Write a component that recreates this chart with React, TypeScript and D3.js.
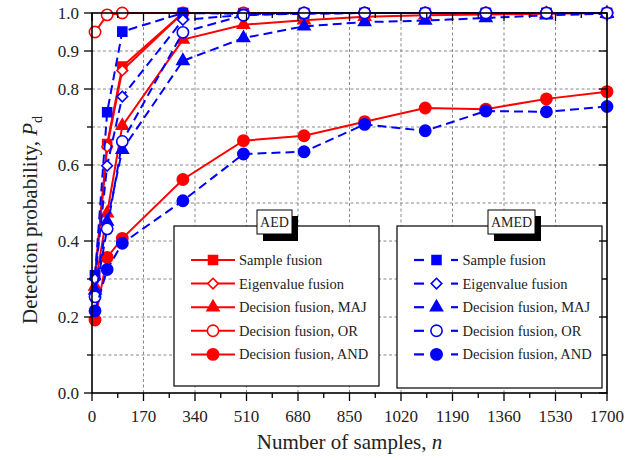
import * as d3 from 'd3';
import React from 'react';

// sample counts on the x axis
const samples = [10, 50, 100, 300, 500, 700, 900, 1100, 1300, 1500, 1700];

// AED (red, solid)
const aedSample = [0.31, 0.655, 0.859, 1.0, 1.0, 1.0, 1.0, 1.0, 1.0, 1.0, 1.0];
const aedEigen = [0.30, 0.648, 0.849, 1.0, 1.0, 1.0, 1.0, 1.0, 1.0, 1.0, 1.0];
const aedMaj = [0.28, 0.473, 0.703, 0.930, 0.969, 0.981, 0.99, 0.994, 0.996, 0.998, 1.0];
const aedOr = [0.95, 0.995, 1.0, 1.0, 1.0, 1.0, 1.0, 1.0, 1.0, 1.0, 1.0];
const aedAnd = [0.192, 0.357, 0.407, 0.562, 0.664, 0.677, 0.714, 0.750, 0.747, 0.774, 0.793];

// AMED (blue, dashed)
const amedSample = [0.31, 0.739, 0.951, 1.0, 0.998, 0.999, 1.0, 1.0, 1.0, 1.0, 1.0];
const amedEigen = [0.30, 0.598, 0.780, 0.982, 0.995, 0.998, 1.0, 1.0, 1.0, 1.0, 1.0];
const amedMaj = [0.27, 0.451, 0.640, 0.874, 0.934, 0.965, 0.976, 0.980, 0.987, 0.994, 0.998];
const amedOr = [0.253, 0.432, 0.662, 0.949, 0.994, 1.0, 1.0, 1.0, 1.0, 1.0, 1.0];
const amedAnd = [0.216, 0.325, 0.394, 0.506, 0.629, 0.635, 0.707, 0.690, 0.742, 0.740, 0.754];

const legendNames = ['Sample fusion', 'Eigenvalue fusion', 'Decision fusion, MAJ', 'Decision fusion, OR', 'Decision fusion, AND'];
const markerKinds = ['square', 'diamond', 'triangle', 'circle', 'circle'];
const markerFilled = [true, false, true, false, true];

const xTicks = d3.range(0, 1701, 170);
const xMinor = d3.range(85, 1700, 170);
const yMajor = [0, 0.2, 0.4, 0.6, 0.8, 0.9, 1.0];
const yMinor = [0.1, 0.3, 0.5, 0.7];
const yGrid = d3.range(1, 10).map(i => i / 10);

const RED = '#ff0000';
const BLUE = '#0000ff';
const FONT = '"Liberation Serif", "DejaVu Serif", serif';

const margin = { left: 92, right: 31, top: 13, bottom: 67 };
const W = 638, H = 460;

function symbolPath(kind: string) {
    const type = kind === 'square' ? d3.symbolSquare
        : kind === 'diamond' ? d3.symbolDiamond2
        : kind === 'triangle' ? d3.symbolTriangle
        : d3.symbolCircle;
    const size = kind === 'square' ? 80 : kind === 'diamond' ? 72 : kind === 'triangle' ? 62 : 100;
    return d3.symbol().type(type).size(size)() as string;
}

function Marker({ x, y, kind, filled, color }: any) {
    return (
        <path
            d={symbolPath(kind)}
            transform={`translate(${x},${y})`}
            fill={filled ? color : '#fff'}
            stroke={color}
            strokeWidth={1.6}
        />
    );
}

export default function App() {
    const x = d3.scaleLinear().domain([0, 1700]).range([margin.left, W - margin.right]);
    const y = d3.scaleLinear().domain([0, 1]).range([H - margin.bottom, margin.top]);

    const line = d3.line<number>()
        .x((d, i) => x(samples[i]))
        .y(d => y(d));

    const red = [aedSample, aedEigen, aedMaj, aedOr, aedAnd];
    const blue = [amedSample, amedEigen, amedMaj, amedOr, amedAnd];

    const x0 = x(0), x1 = x(1700), y0 = y(0), y1 = y(1);

    const renderSeries = (vals: number[], i: number, color: string, dashed: boolean) => (
        <g key={color + i}>
            <path d={line(vals) as string} fill="none" stroke={color} strokeWidth={2}
                strokeDasharray={dashed ? '9,5' : undefined} />
            {vals.map((v, j) => (
                <Marker key={j} x={x(samples[j])} y={y(v)} kind={markerKinds[i]} filled={markerFilled[i]} color={color} />
            ))}
        </g>
    );

    const legend = (left: number, right: number, top: number, bottom: number, title: string, titleX: number, titleW: number, color: string, dashed: boolean) => (
        <g>
            <rect x={left} y={top} width={right - left} height={bottom - top} fill="#fff" stroke="#000" strokeWidth={1.2} />
            <rect x={titleX + 6} y={216} width={titleW} height={25} fill="#000" />
            <rect x={titleX} y={210} width={titleW} height={24} fill="#fff" stroke="#000" strokeWidth={1} />
            <text x={titleX + titleW / 2} y={227} textAnchor="middle" fontSize={14} fontFamily={FONT} fill="#222">{title}</text>
            {legendNames.map((name, i) => {
                const ry = top + 34 + i * 23.6;
                const mx = left + (dashed ? 39.5 : 39);
                return (
                    <g key={name}>
                        {dashed ? (
                            <g stroke={color} strokeWidth={2.2}>
                                <line x1={left + 17} x2={left + 27} y1={ry} y2={ry} />
                                <line x1={left + 54} x2={left + 61} y1={ry} y2={ry} />
                            </g>
                        ) : (
                            <line x1={left + 17} x2={left + 61} y1={ry} y2={ry} stroke={color} strokeWidth={2} />
                        )}
                        <Marker x={mx} y={ry} kind={markerKinds[i]} filled={markerFilled[i]} color={color} />
                        <text x={left + (dashed ? 65.5 : 65)} y={ry + 5} fontSize={14.5} fontFamily={FONT} fill="#222">{name}</text>
                    </g>
                );
            })}
        </g>
    );

    return (
        <svg width={W} height={H} style={{ position: 'absolute', left: 0, top: 0, background: '#fff' }}>
            <rect width={W} height={H} fill="#fff" />
            {/* grid */}
            <g stroke="#888" strokeWidth={1} strokeDasharray="3,2.5">
                {yGrid.map(v => <line key={'gy' + v} x1={x0} x2={x1} y1={y(v)} y2={y(v)} />)}
                {xTicks.slice(1, -1).map(v => <line key={'gx' + v} x1={x(v)} x2={x(v)} y1={y0} y2={y1} />)}
            </g>

            {red.map((vals, i) => renderSeries(vals, i, RED, false))}
            {blue.map((vals, i) => renderSeries(vals, i, BLUE, true))}

            {legend(174, 379, 226, 386, 'AED', 257, 35, RED, false)}
            {legend(397, 602, 226, 388, 'AMED', 488, 47, BLUE, true)}

            {/* frame */}
            <rect x={x0} y={y1} width={x1 - x0} height={y0 - y1} fill="none" stroke="#000" strokeWidth={1.6} />
            <g stroke="#000" strokeWidth={1.3}>
                {xTicks.map(v => (
                    <g key={'xt' + v}>
                        <line x1={x(v)} x2={x(v)} y1={y0} y2={y0 + 8} />
                        <line x1={x(v)} x2={x(v)} y1={y1} y2={y1 + 8} />
                    </g>
                ))}
                {xMinor.map(v => (
                    <g key={'xm' + v}>
                        <line x1={x(v)} x2={x(v)} y1={y0} y2={y0 + 5} />
                        <line x1={x(v)} x2={x(v)} y1={y1} y2={y1 + 5} />
                    </g>
                ))}
                {yMajor.map(v => (
                    <g key={'yt' + v}>
                        <line x1={x0 - 8} x2={x0} y1={y(v)} y2={y(v)} />
                        <line x1={x1 - 8} x2={x1} y1={y(v)} y2={y(v)} />
                    </g>
                ))}
                {yMinor.map(v => (
                    <g key={'ym' + v}>
                        <line x1={x0 - 5} x2={x0} y1={y(v)} y2={y(v)} />
                        <line x1={x1 - 5} x2={x1} y1={y(v)} y2={y(v)} />
                    </g>
                ))}
            </g>

            {/* tick labels */}
            <g fontFamily={FONT} fontSize={17} fill="#222">
                {xTicks.map(v => (
                    <text key={'xl' + v} x={x(v)} y={y0 + 29} textAnchor="middle">{v}</text>
                ))}
                {yMajor.map(v => (
                    <text key={'yl' + v} x={x0 - 13} y={y(v) + 6} textAnchor="end">{v.toFixed(1)}</text>
                ))}
            </g>

            {/* axis titles */}
            <text x={(x0 + x1) / 2} y={449} textAnchor="middle" fontFamily={FONT} fontSize={21} fill="#222">
                Number of samples, <tspan fontStyle="italic">n</tspan>
            </text>
            <text transform={`translate(37,${220}) rotate(-90)`} textAnchor="middle" fontFamily={FONT} fontSize={21} fill="#222">
                Detection probability, <tspan fontStyle="italic">P</tspan>
                <tspan fontSize={14} dy={5}>d</tspan>
            </text>
        </svg>
    );
}
